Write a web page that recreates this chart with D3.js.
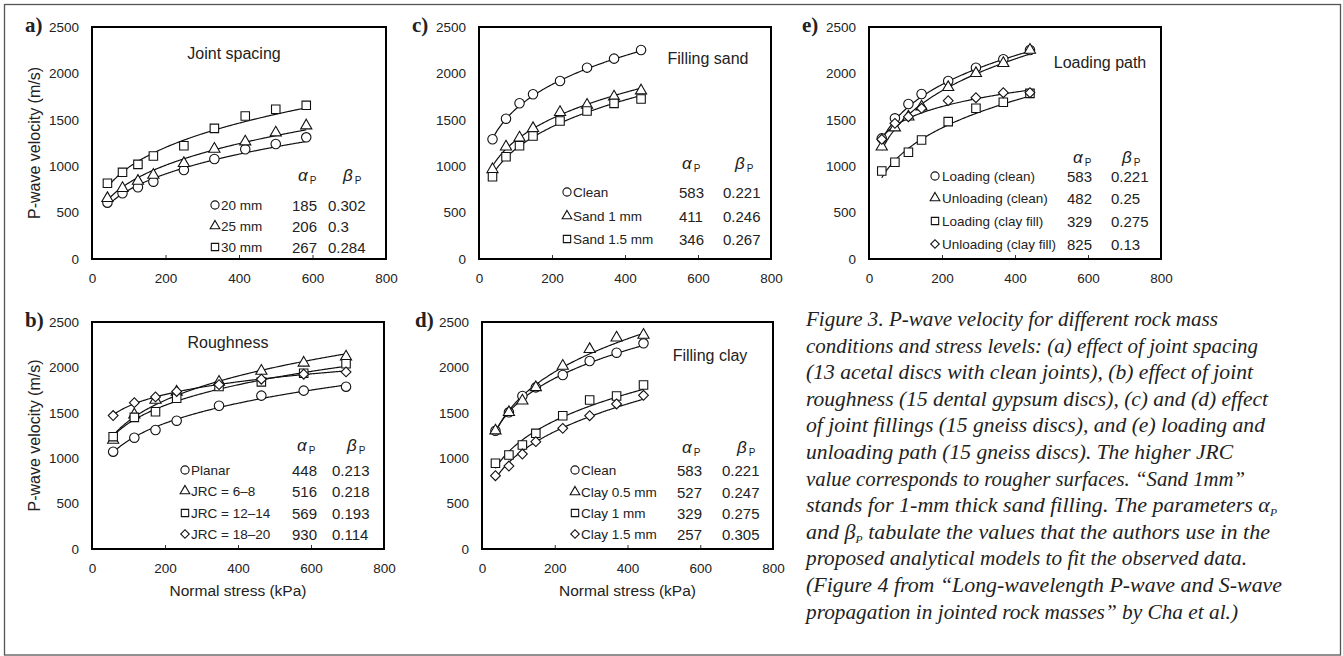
<!DOCTYPE html>
<html>
<head>
<meta charset="utf-8">
<script src="https://cdn.jsdelivr.net/npm/d3@7"></script>
<style>
  body { margin: 0; background: #fff; }
  text { font-family: "Liberation Sans", Arial, sans-serif; fill: #222; }
  text.cap { font-family: "Liberation Serif", "Times New Roman", serif; font-style: italic; }
</style>
</head>
<body>
<svg id="fig" width="1343" height="656"></svg>
<script>
// ---- data (normal stress in kPa, velocity in m/s) ----
const xTicks = [0, 200, 400, 600, 800];
const yTicks = [0, 500, 1000, 1500, 2000, 2500];

// a) joint spacing
const stressA = [42, 83, 125, 167, 250, 333, 417, 500, 583];
const vel20mm = [607, 708, 773, 833, 959, 1078, 1182, 1239, 1311];
const vel25mm = [654, 762, 840, 905, 1031, 1185, 1264, 1361, 1437];
const vel30mm = [816, 934, 1020, 1110, 1221, 1408, 1541, 1613, 1656];
const labelsA = ["20 mm", "25 mm", "30 mm"];
const alphaA = [185, 206, 267];
const betaA = [0.302, 0.3, 0.284];

// b) roughness
const stressB = [58, 116, 174, 232, 348, 464, 580, 696];
const velPlanar = [1072, 1226, 1311, 1413, 1578, 1689, 1744, 1788];
const velJrc68 = [1200, 1480, 1640, 1730, 1840, 1960, 2050, 2118];
const velJrc1214 = [1237, 1450, 1512, 1660, 1790, 1840, 1935, 2040];
const velJrc1820 = [1470, 1612, 1675, 1735, 1810, 1870, 1925, 1950];
const labelsB = ["Planar", "JRC = 6–8", "JRC = 12–14", "JRC = 18–20"];
const alphaB = [448, 516, 569, 930];
const betaB = [0.213, 0.218, 0.193, 0.114];

// c) filling sand
const stressC = [37, 74, 111, 148, 222, 296, 370, 444];
const velCleanC = [1290, 1512, 1678, 1775, 1918, 2062, 2159, 2252];
const velSand1 = [966, 1210, 1307, 1408, 1581, 1659, 1749, 1814];
const velSand15 = [887, 1102, 1221, 1325, 1487, 1595, 1677, 1724];
const labelsC = ["Clean", "Sand 1 mm", "Sand 1.5 mm"];
const alphaC = [583, 411, 346];
const betaC = [0.221, 0.246, 0.267];

// d) filling clay
const stressD = [37, 74, 111, 148, 222, 296, 370, 444];
const velCleanD = [1303, 1505, 1685, 1780, 1916, 2070, 2162, 2265];
const velClay05 = [1303, 1505, 1633, 1780, 2015, 2199, 2327, 2357];
const velClay1 = [944, 1035, 1145, 1274, 1468, 1641, 1685, 1806];
const velClay15 = [807, 914, 1046, 1182, 1329, 1468, 1597, 1693];
const labelsD = ["Clean", "Clay 0.5 mm", "Clay 1 mm", "Clay 1.5 mm"];
const alphaD = [583, 527, 329, 257];
const betaD = [0.221, 0.247, 0.275, 0.305];

// e) loading path
const stressE = [35, 71, 108, 144, 217, 293, 368, 441];
const velLoadClean = [1300, 1516, 1670, 1778, 1918, 2062, 2152, 2252];
const velUnloadClean = [1210, 1415, 1533, 1641, 1850, 2001, 2109, 2252];
const velLoadClay = [948, 1042, 1150, 1282, 1480, 1624, 1689, 1785];
const velUnloadClay = [1290, 1462, 1533, 1624, 1706, 1738, 1792, 1792];
const labelsE = ["Loading (clean)", "Unloading (clean)", "Loading (clay fill)", "Unloading (clay fill)"];
const alphaE = [583, 482, 329, 825];
const betaE = [0.221, 0.25, 0.275, 0.13];

const captionLines = [
  "Figure 3. P-wave velocity for different rock mass",
  "conditions and stress levels: (a) effect of joint spacing",
  "(13 acetal discs with clean joints), (b) effect of joint",
  "roughness (15 dental gypsum discs), (c) and (d) effect",
  "of joint fillings (15 gneiss discs), and (e) loading and",
  "unloading path (15 gneiss discs). The higher JRC",
  "value corresponds to rougher surfaces. “Sand 1mm”",
  "stands for 1-mm thick sand filling. The parameters α{P}",
  "and β{P} tabulate the values that the authors use in the",
  "proposed analytical models to fit the observed data.",
  "(Figure 4 from “Long-wavelength P-wave and S-wave",
  "propagation in jointed rock masses” by Cha et al.)"
];
const captionWidths = [412, 452, 447, 462, 459, 427, 439, 471, 464, 441, 476, 432];

// ---- layout ----
const panels = [
  { tag: "a)", left: 92, right: 386, top: 27, bottom: 259, stress: stressA,
    series: [vel20mm, vel25mm, vel30mm], shapes: ["circle", "triangle", "square"],
    labels: labelsA, alpha: alphaA, beta: betaA, title: "Joint spacing", tx: 234, ty: 59,
    leg: { mx: 215, lx: 221, ax: 292, bx: 328, hax: 298, hbx: 343, hy: 176, rows: [205, 226, 247] },
    ylab: true, xlab: false },
  { tag: "b)", left: 92, right: 384, top: 322, bottom: 549, stress: stressB,
    series: [velPlanar, velJrc68, velJrc1214, velJrc1820], shapes: ["circle", "triangle", "square", "diamond"],
    labels: labelsB, alpha: alphaB, beta: betaB, title: "Roughness", tx: 228, ty: 348,
    leg: { mx: 185, lx: 191, ax: 292, bx: 332, hax: 297, hbx: 347, hy: 446, rows: [470, 491, 513, 534] },
    ylab: true, xlab: true },
  { tag: "c)", left: 479, right: 771, top: 27, bottom: 259, stress: stressC,
    series: [velCleanC, velSand1, velSand15], shapes: ["circle", "triangle", "square"],
    labels: labelsC, alpha: alphaC, beta: betaC, title: "Filling sand", tx: 708, ty: 64,
    leg: { mx: 567, lx: 573, ax: 679, bx: 723, hax: 682, hbx: 735, hy: 164, rows: [192, 216, 239] },
    ylab: false, xlab: false },
  { tag: "d)", left: 482, right: 773, top: 322, bottom: 549, stress: stressD,
    series: [velCleanD, velClay05, velClay1, velClay15], shapes: ["circle", "triangle", "square", "diamond"],
    labels: labelsD, alpha: alphaD, beta: betaD, title: "Filling clay", tx: 710, ty: 361,
    leg: { mx: 575, lx: 581, ax: 677, bx: 722, hax: 682, hbx: 737, hy: 448, rows: [470, 492, 513, 534] },
    ylab: false, xlab: true },
  { tag: "e)", left: 869, right: 1161, top: 27, bottom: 259, stress: stressE,
    series: [velLoadClean, velUnloadClean, velLoadClay, velUnloadClay], shapes: ["circle", "triangle", "square", "diamond"],
    labels: labelsE, alpha: alphaE, beta: betaE, title: "Loading path", tx: 1100, ty: 68,
    leg: { mx: 935, lx: 942, ax: 1067, bx: 1111, hax: 1073, hbx: 1122, hy: 158, rows: [176, 198, 221, 244] },
    ylab: false, xlab: false }
];

const svg = d3.select("#fig");

// outer border
svg.append("rect")
  .attr("x", 4.5).attr("y", 4.5).attr("width", 1336).attr("height", 650.5)
  .attr("fill", "none").attr("stroke", "#555").attr("stroke-width", 1.3);

const symbolType = { circle: d3.symbolCircle, triangle: d3.symbolTriangle, square: d3.symbolSquare, diamond: d3.symbolSquare };
const symbolArea = { circle: 70, triangle: 54, square: 72, diamond: 48 };

function addMarker(g, shape, cx, cy, k) {
  g.append("path")
    .attr("d", d3.symbol(symbolType[shape], symbolArea[shape] * k)())
    .attr("transform", `translate(${cx},${cy})` + (shape === "diamond" ? " rotate(45)" : ""))
    .attr("fill", "#fff")
    .attr("stroke", "#111")
    .attr("stroke-width", 1.1);
}

function addHeader(g, x, y, letter) {
  const t = g.append("text").attr("x", x).attr("y", y);
  t.append("tspan").text(letter).style("font-style", "italic").style("font-size", "17px");
  t.append("tspan").text("P").attr("dx", 2).attr("dy", 3).style("font-size", "10px");
}

panels.forEach(p => {
  const g = svg.append("g");
  const x = d3.scaleLinear().domain([0, 800]).range([p.left, p.right]);
  const y = d3.scaleLinear().domain([0, 2500]).range([p.bottom, p.top]);

  // axes
  const ya = g.append("g").attr("transform", `translate(${p.left},0)`)
    .call(d3.axisLeft(y).tickValues(yTicks).tickFormat(d3.format("d")).tickSize(0).tickPadding(13));
  ya.select(".domain").remove();
  ya.selectAll("text").attr("font-family", null).style("font-size", "13.5px").attr("fill", "#222");

  const xa = g.append("g").attr("transform", `translate(0,${p.bottom})`)
    .call(d3.axisBottom(x).tickValues(xTicks).tickFormat(d3.format("d")).tickSizeInner(-4).tickSizeOuter(0).tickPadding(14));
  xa.select(".domain").remove();
  xa.selectAll("line").attr("stroke", "#333").attr("stroke-width", 1);
  xa.selectAll("text").attr("font-family", null).style("font-size", "13.5px").attr("fill", "#222");

  // fitted power law v = alpha * sigma^beta, from the tabulated parameters
  const line = d3.line().x(d => x(d[0])).y(d => y(d[1])).curve(d3.curveMonotoneX);
  p.series.forEach((s, i) => {
    const s0 = p.stress[0], s1 = p.stress[p.stress.length - 1];
    const pts = d3.range(s0, s1, 3).concat([s1]).map(v => [v, p.alpha[i] * Math.pow(v, p.beta[i])]);
    g.append("path").attr("d", line(pts))
      .attr("fill", "none").attr("stroke", "#111").attr("stroke-width", 1.2);
  });

  // observed points
  p.series.forEach((s, i) => {
    s.forEach((v, j) => addMarker(g, p.shapes[i], x(p.stress[j]), y(v), 1));
  });

  // frame
  g.append("rect")
    .attr("x", p.left).attr("y", p.top)
    .attr("width", p.right - p.left).attr("height", p.bottom - p.top)
    .attr("fill", "none").attr("stroke", "#000").attr("stroke-width", 2);

  // inset title
  g.append("text").attr("x", p.tx).attr("y", p.ty).attr("text-anchor", "middle")
    .style("font-size", "16px").text(p.title);

  // legend table
  const L = p.leg;
  addHeader(g, L.hax, L.hy + 5, "α");
  addHeader(g, L.hbx, L.hy + 5, "β");
  p.labels.forEach((lab, i) => {
    const ry = L.rows[i];
    addMarker(g, p.shapes[i], L.mx, ry, 0.75);
    g.append("text").attr("x", L.lx).attr("y", ry + 5).style("font-size", "13.5px").text(lab);
    g.append("text").attr("x", L.ax).attr("y", ry + 5.5).style("font-size", "15px").text(p.alpha[i]);
    g.append("text").attr("x", L.bx).attr("y", ry + 5.5).style("font-size", "15px").text(p.beta[i]);
  });

  // panel tag
  g.append("text").attr("x", p.left - 67).attr("y", p.top + 5)
    .style("font-family", "'Liberation Serif', 'Times New Roman', serif")
    .style("font-weight", "bold").style("font-size", "21px").text(p.tag);

  if (p.ylab) {
    g.append("text")
      .attr("transform", `translate(34,${(p.top + p.bottom) / 2}) rotate(-90)`)
      .attr("text-anchor", "middle").attr("dy", "0.35em")
      .style("font-size", "16px").text("P-wave velocity (m/s)");
  }
  if (p.xlab) {
    g.append("text")
      .attr("x", (p.left + p.right) / 2).attr("y", p.bottom + 47)
      .attr("text-anchor", "middle")
      .style("font-size", "15.5px").text("Normal stress (kPa)");
  }
});

// caption
const cap = svg.append("g");
captionLines.forEach((ln, i) => {
  const t = cap.append("text").attr("class", "cap")
    .attr("x", 806).attr("y", 326 + i * 26.6)
    .attr("textLength", captionWidths[i]).attr("lengthAdjust", "spacingAndGlyphs")
    .style("font-size", "21px").attr("fill", "#222");
  ln.split("{P}").forEach((part, k, arr) => {
    t.append("tspan").text(part).attr("dy", k > 0 ? -4 : 0);
    if (k < arr.length - 1) {
      t.append("tspan").text("P").attr("dy", 4).style("font-size", "11px");
    }
  });
});
</script>
</body>
</html>
